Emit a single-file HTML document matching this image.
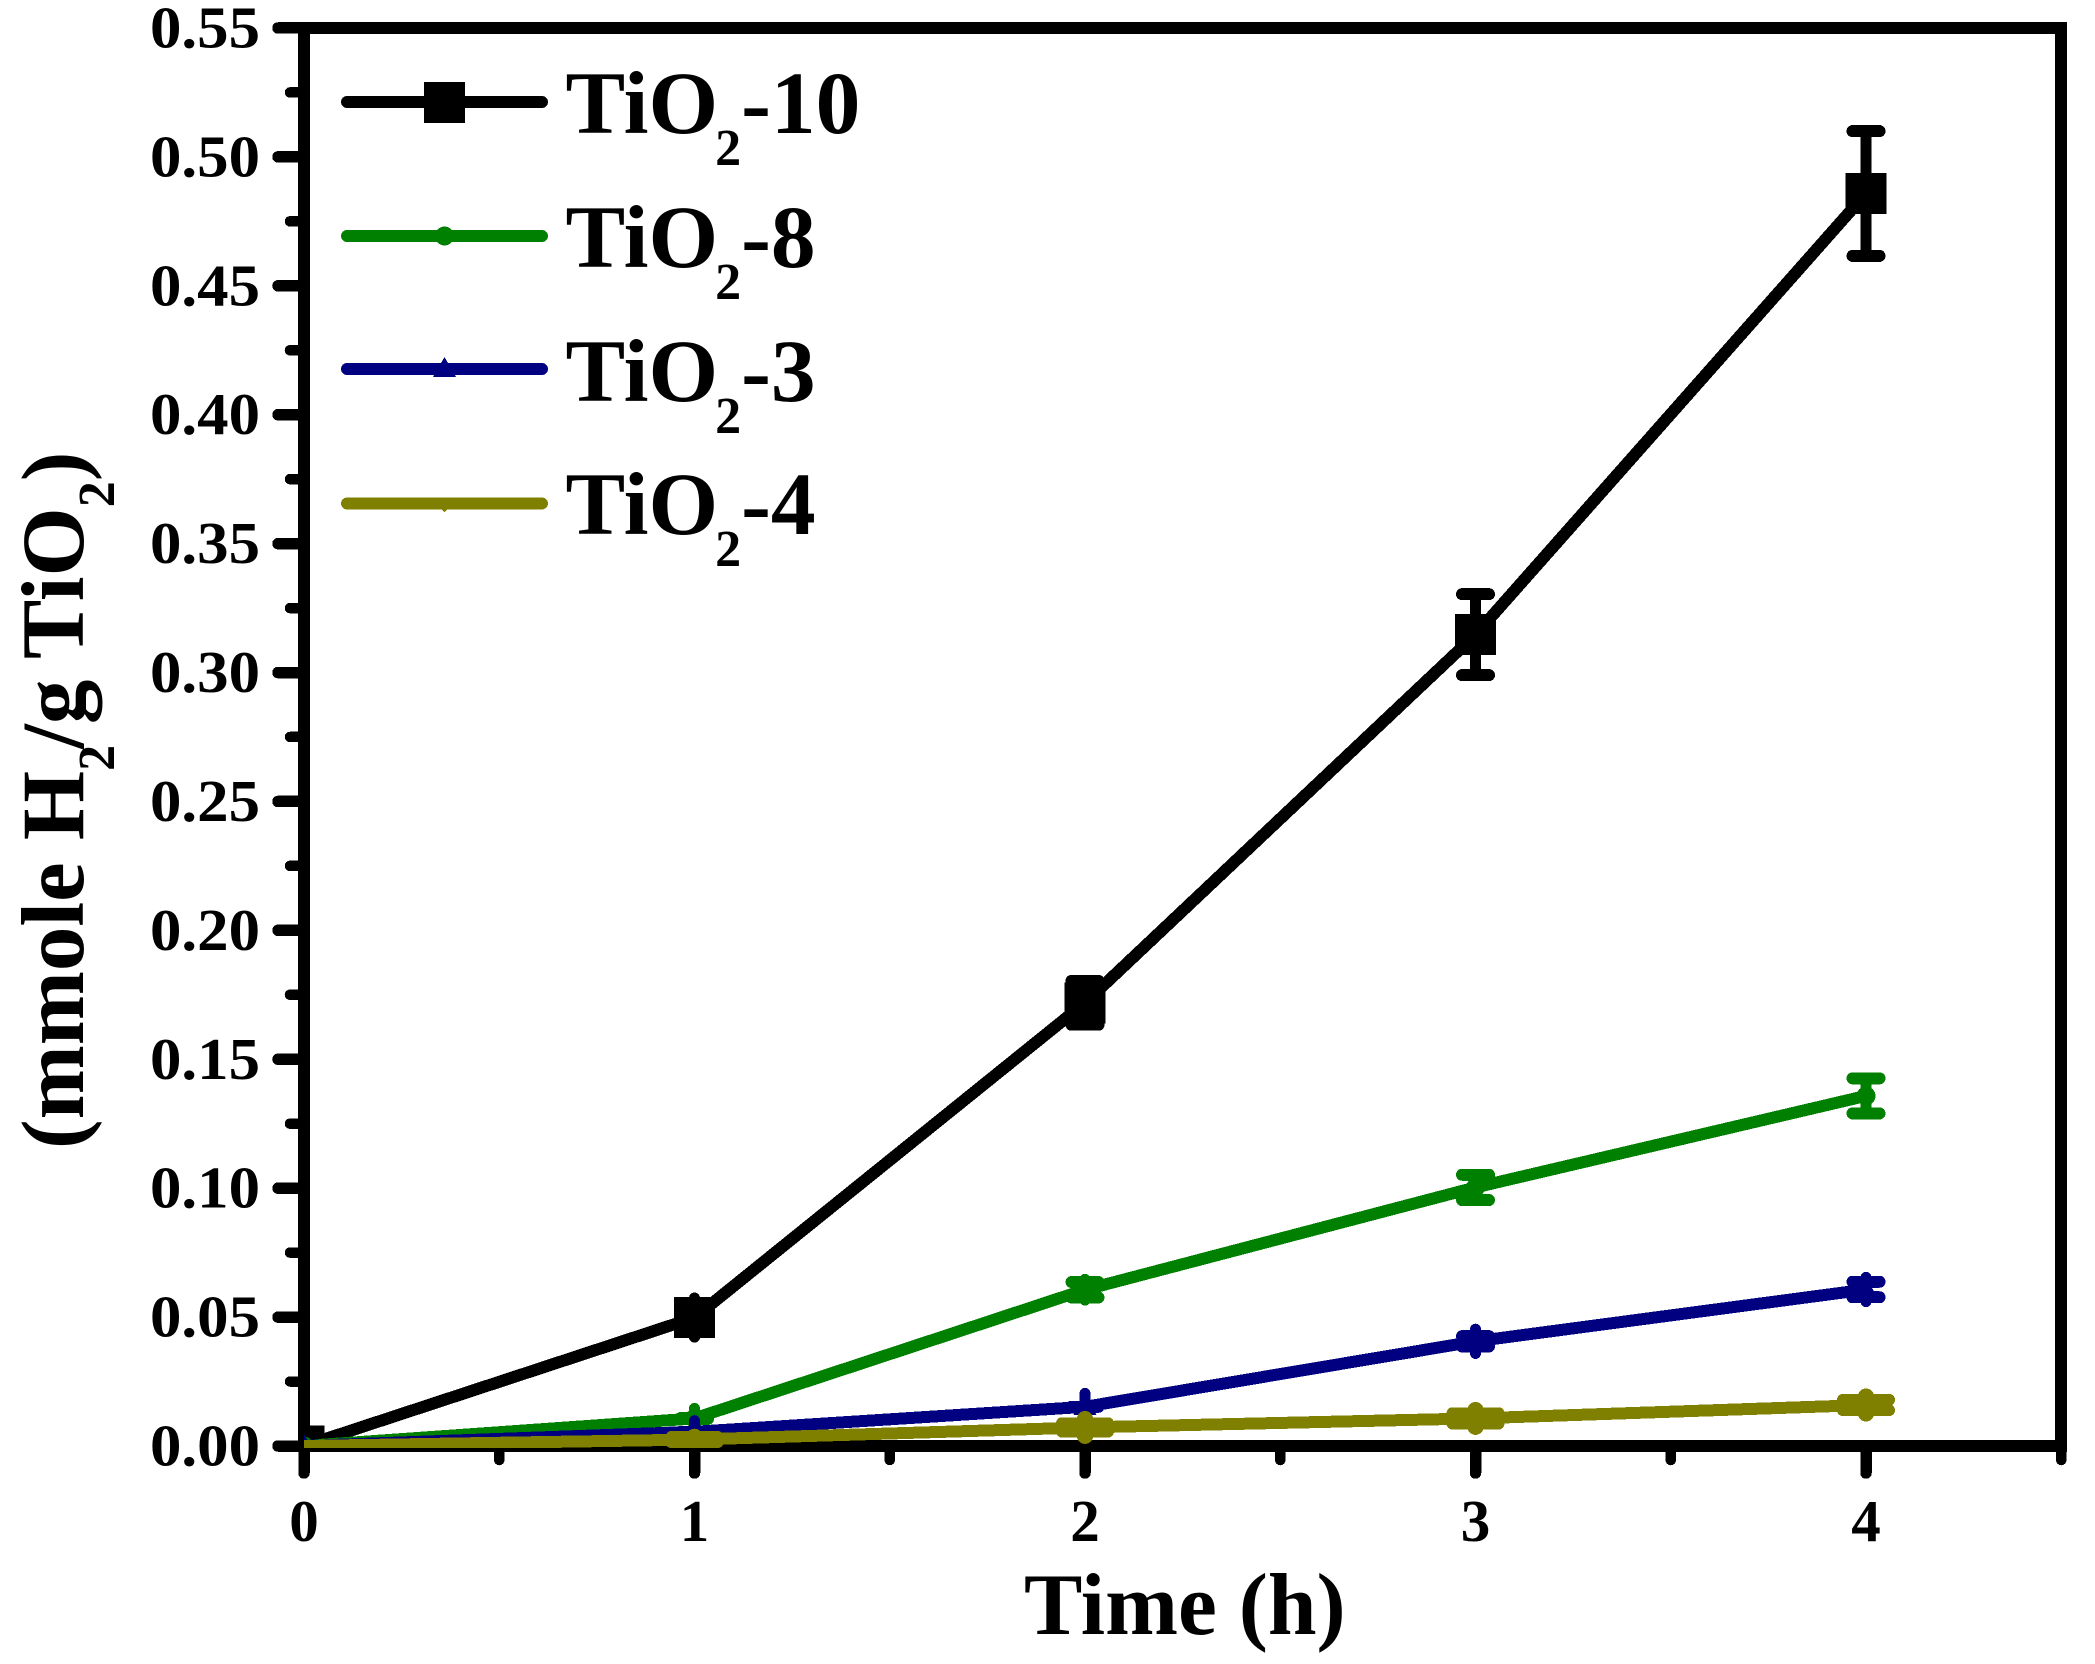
<!DOCTYPE html>
<html lang="en">
<head>
<meta charset="utf-8">
<title>Hydrogen evolution over time</title>
<style>
html,body{margin:0;padding:0;background:#fff;}
svg{display:block;}
line,polyline,rect,circle,polygon{shape-rendering:crispEdges;}
text{font-family:"Liberation Serif",serif;font-weight:bold;fill:#000;}
.tick-label{font-size:59px;}
.big{font-size:89.5px;}
.title{font-size:89px;}
</style>
</head>
<body>
<svg id="chart" xmlns="http://www.w3.org/2000/svg" width="2095" height="1664" viewBox="0 0 2095 1664">
  <rect x="0" y="0" width="2095" height="1664" fill="#fff"/>
  <defs><clipPath id="plot-clip"><rect x="304" y="28" width="1757" height="1420"/></clipPath></defs>
  <g id="axes"></g>
  <g id="series" clip-path="url(#plot-clip)"></g>

  <text style="font-size:87.5px" x="1024" y="1634">Time (h)</text>
  <text class="title" transform="translate(83,1149) rotate(-90)">(mmole H<tspan font-size="52" dy="31">2</tspan><tspan dx="-4" dy="-31">/g TiO</tspan><tspan font-size="52" dy="31">2</tspan><tspan dy="-31">)</tspan></text>

  <g>
    <g>
      <line x1="347" y1="102" x2="542" y2="102" stroke="#000" stroke-width="12" stroke-linecap="round"/>
      <rect x="424" y="82" width="41" height="41" fill="#000"/>
      <text class="big" x="565.5" y="133">TiO<tspan font-size="52" dx="-3" dy="32">2</tspan><tspan dy="-32">-10</tspan></text>
    </g>
    <g>
      <line x1="347" y1="236" x2="542" y2="236" stroke="#008000" stroke-width="12" stroke-linecap="round"/>
      <circle cx="444.5" cy="236" r="9.5" fill="#008000"/>
      <text class="big" x="565.5" y="267">TiO<tspan font-size="52" dx="-3" dy="32">2</tspan><tspan dy="-32">-8</tspan></text>
    </g>
    <g>
      <line x1="347" y1="369" x2="542" y2="369" stroke="#000080" stroke-width="12" stroke-linecap="round"/>
      <polygon points="444.5,357 433,377 456,377" fill="#000080"/>
      <text class="big" x="565.5" y="401">TiO<tspan font-size="52" dx="-3" dy="32">2</tspan><tspan dy="-32">-3</tspan></text>
    </g>
    <g>
      <line x1="347" y1="503.5" x2="542" y2="503.5" stroke="#808000" stroke-width="12" stroke-linecap="round"/>
      <polygon points="441,509 448,509 444.5,512" fill="#808000"/>
      <text class="big" x="565.5" y="534">TiO<tspan font-size="52" dx="-3" dy="32">2</tspan><tspan dy="-32">-4</tspan></text>
    </g>
  </g>
</svg>
<script>
// Chart data
var times = [0, 1, 2, 3, 4];
var xTickLabels = ["0", "1", "2", "3", "4"];
var xMinorTicks = [0.5, 1.5, 2.5, 3.5, 4.5];
var yTickLabels = ["0.00", "0.05", "0.10", "0.15", "0.20", "0.25", "0.30", "0.35", "0.40", "0.45", "0.50", "0.55"];
var yMinorTicks = [0.025, 0.075, 0.125, 0.175, 0.225, 0.275, 0.325, 0.375, 0.425, 0.475, 0.525];

var tio2_10 = [0, 0.0498, 0.1719, 0.3147, 0.4858];
var tio2_10Err = [0, 0.004, 0.0085, 0.0157, 0.0242];
var tio2_10Spike = [0, 0.0076, 0, 0, 0];

var tio2_8 = [0, 0.0107, 0.0606, 0.1003, 0.1358];
var tio2_8Err = [0, 0.0002, 0.003, 0.0049, 0.0068];
var tio2_8Spike = [0, 0.0039, 0.004, 0, 0];

var tio2_3 = [0, 0.0055, 0.0152, 0.0406, 0.0607];
var tio2_3Err = [0, 0, 0, 0.002, 0.003];
var tio2_3Spike = [0, 0.0043, 0.0052, 0.0047, 0.0047];

var tio2_4 = [0, 0.0025, 0.0072, 0.0107, 0.0159];
var tio2_4Err = [0, 0.001, 0.0016, 0.002, 0.002];
var tio2_4Spike = [0, 0, 0.0032, 0.0032, 0.0032];

// Axis functions
function xScale(t) { return 304 + t * 390.5; }
function yScale(v) { return 1446 - v * 2578.2; }

var NS = "http://www.w3.org/2000/svg";
var axesGroup = document.getElementById("axes");
var seriesGroup = document.getElementById("series");

function make(tag, parent, attrs) {
  var el = document.createElementNS(NS, tag);
  for (var k in attrs) { el.setAttribute(k, attrs[k]); }
  parent.appendChild(el);
  return el;
}

// Frame
var frame = make("rect", axesGroup, {x: 304, y: 28, width: 1757, height: 1418, fill: "none", stroke: "#000", "stroke-width": 12});



// Y ticks
yTickLabels.forEach(function (label) {
  var v = parseFloat(label);
  var tick = make("line", axesGroup, {x1: 278, x2: 304, y1: yScale(v), y2: yScale(v), stroke: "#000", "stroke-width": 11.5, "stroke-linecap": "round"});
  
  
  var txt = make("text", axesGroup, {x: 260, y: yScale(v) + 19.5, "text-anchor": "end", "class": "tick-label", textLength: 110, lengthAdjust: "spacingAndGlyphs"});
  txt.textContent = label;
  
  
});
yMinorTicks.forEach(function (v) {
  var tick = make("line", axesGroup, {x1: 290, x2: 304, y1: yScale(v), y2: yScale(v), stroke: "#000", "stroke-width": 10.5, "stroke-linecap": "round"});
  
  
});

// X ticks
xTickLabels.forEach(function (label) {
  var t = parseFloat(label);
  var tick = make("line", axesGroup, {x1: xScale(t), x2: xScale(t), y1: 1446, y2: 1473, stroke: "#000", "stroke-width": 11.5, "stroke-linecap": "round"});
  
  
  var txt = make("text", axesGroup, {x: xScale(t), y: 1541, "text-anchor": "middle", "class": "tick-label"});
  txt.textContent = label;
  
  
});
xMinorTicks.forEach(function (t) {
  var tick = make("line", axesGroup, {x1: xScale(t), x2: xScale(t), y1: 1446, y2: 1460, stroke: "#000", "stroke-width": 10.5, "stroke-linecap": "round"});
  
  
});

// Series
function drawSeries(name, color, values, errs, spikes, capHalf, spikeWidth, marker) {
  var g = make("g", seriesGroup, {});
  
  

  var pts = times.map(function (t, i) { return xScale(t) + "," + yScale(values[i]); }).join(" ");
  var line = make("polyline", g, {points: pts, fill: "none", stroke: color, "stroke-width": 12, "stroke-linejoin": "round"});
  
  

  times.forEach(function (t, i) {
    var x = xScale(t), y = yScale(values[i]);
    var e = errs[i], s = spikes[i];
    if (t > 0) {
      var reach = Math.max(e, s);
      var stem = make("line", g, {x1: x, x2: x, y1: yScale(values[i] + reach), y2: yScale(values[i] - reach), stroke: color, "stroke-width": spikeWidth, "stroke-linecap": "round"});
      
      
      [1, -1].forEach(function (dir) {
        var yc = yScale(values[i] + dir * e);
        var cap = make("line", g, {x1: x - capHalf + 6, x2: x + capHalf - 6, y1: yc, y2: yc, stroke: color, "stroke-width": 12, "stroke-linecap": "round"});
        
        
      });
    }
    var m;
    if (marker === "square") {
      m = make("rect", g, {x: x - 20.5, y: y - 20.5, width: 41, height: 41, fill: color});
    } else if (marker === "circle") {
      m = make("circle", g, {cx: x, cy: y, r: 9.5, fill: color});
    } else if (marker === "triangle") {
      m = make("polygon", g, {points: (x) + "," + (y - 12) + " " + (x - 11.5) + "," + (y + 8) + " " + (x + 11.5) + "," + (y + 8), fill: color});
    } else {
      m = make("polygon", g, {points: (x - 4) + "," + (y + 5) + " " + (x + 4) + "," + (y + 5) + " " + x + "," + (y + 9), fill: color});
    }
    
    
  });
}

drawSeries("series-tio2-10", "#000000", tio2_10, tio2_10Err, tio2_10Spike, 19.5, 11, "square");
drawSeries("series-tio2-8", "#008000", tio2_8, tio2_8Err, tio2_8Spike, 19.5, 11, "circle");
drawSeries("series-tio2-3", "#000080", tio2_3, tio2_3Err, tio2_3Spike, 19.5, 11, "triangle");
drawSeries("series-tio2-4", "#808000", tio2_4, tio2_4Err, tio2_4Spike, 29, 16.5, "down-triangle");
</script>
</body>
</html>
